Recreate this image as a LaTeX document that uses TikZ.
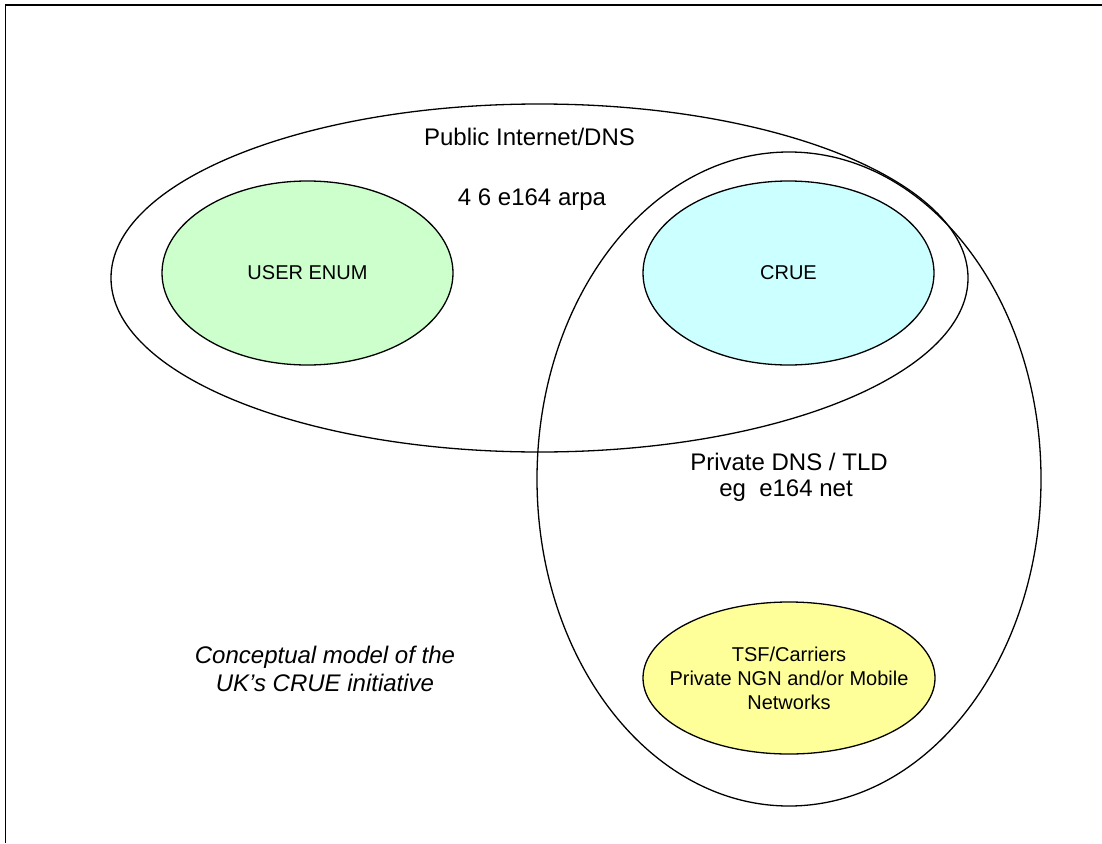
\documentclass[tikz,border=0pt]{standalone}
\usepackage{fontspec}
\setmainfont{Liberation Sans}
\usetikzlibrary{shapes.geometric}
\definecolor{userfill}{HTML}{CCFFCC}
\definecolor{cruefill}{HTML}{CCFFFF}
\definecolor{carrierfill}{HTML}{FFFF99}
\begin{document}
\begin{tikzpicture}[x=1pt,y=-1pt,
  zone/.style={draw=black,line width=1.3pt,ellipse,inner sep=0pt},
  bigtext/.style={font=\fontsize{24}{28}\selectfont,inner sep=0pt,anchor=base},
  smalltext/.style={font=\fontsize{20}{24}\selectfont,align=center,inner sep=0pt},
  captiontext/.style={font=\fontsize{24}{28}\selectfont\itshape,inner sep=0pt,anchor=base}]
\useasboundingbox (0,0) rectangle (1102,843);
% page frame
\draw[line width=2pt] (1102,5) -- (5,5);
\draw[line width=0.8pt] (5,5) -- (5,843);
% outer domains
\node[zone,minimum width=857,minimum height=348] (public) at (539.5,278) {};
\node[zone,minimum width=504,minimum height=654] (private) at (789,479) {};
% inner domains
\node[zone,fill=userfill,minimum width=291,minimum height=184] (user) at (307.5,273) {};
\node[zone,fill=cruefill,minimum width=291,minimum height=184] (crue) at (788.5,273) {};
\node[zone,fill=carrierfill,minimum width=292,minimum height=152] (carrier) at (789,678) {};
\node[smalltext] (usertext) at (user.center) {USER ENUM};
\node[smalltext] (cruetext) at (crue.center) {CRUE};
\node[smalltext] (carriertext) at (carrier.center)
  {TSF/Carriers\\Private NGN and/or Mobile\\Networks};
% labels
\node[bigtext] (publicname) at (529.5,145) {Public Internet/DNS};
\node[bigtext] (publicdomain) at (532,205) {4 6 e164 arpa};
\node[bigtext] (privatename) at (789,470) {Private DNS / TLD};
\node[bigtext] (privatedomain) at (786,496) {eg\ \ e164 net};
\node[captiontext] (caption1) at (325,663) {Conceptual model of the};
\node[captiontext] (caption2) at (325,691) {UK’s CRUE initiative};
\end{tikzpicture}
\end{document}
